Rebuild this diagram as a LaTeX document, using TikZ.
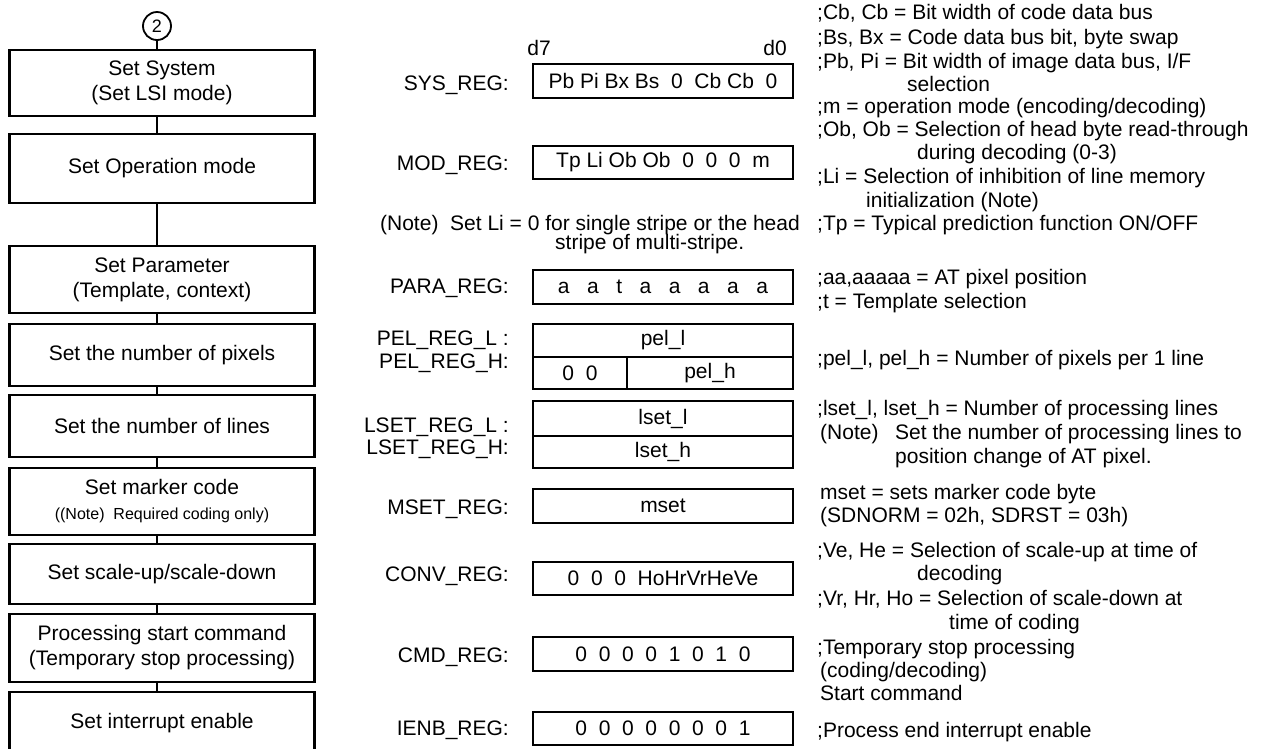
\documentclass[tikz,border=0pt]{standalone}
\usepackage{fontspec}
\setmainfont{Liberation Sans}
\newcommand\ft{\fontsize{21}{25}\selectfont}
\newcommand\smallft{\fontsize{16}{18}\selectfont}
\begin{document}
\begin{tikzpicture}[x=1pt,y=-1pt,
  box/.style={draw, line width=2.6pt, minimum width=305pt, inner sep=0pt, align=center, font=\ft},
  reg/.style={draw, line width=2.2pt, minimum width=260pt, inner sep=0pt, font=\ft},
  conn/.style={line width=1.3pt},
  lab/.style={inner sep=0pt, anchor=base east, font=\ft},
  txt/.style={inner sep=0pt, anchor=base west, font=\ft},
  ctxt/.style={inner sep=0pt, anchor=base, font=\ft}]
\useasboundingbox (0,0) rectangle (1278,748);
\clip (0,0) rectangle (1278,748);
\fill[white] (0,0) rectangle (1278,748);

% ---------- left flow ----------
\node[circle, draw, line width=1.8pt, minimum size=28pt, inner sep=0pt, font=\fontsize{18}{18}\selectfont] (c2) at (157,26) {2};
\node[box, minimum height=66pt] (b1) at (162,83) {Set System\\(Set LSI mode)};
\node[box, minimum height=69pt] (b2) at (162,168.5) {Set Operation mode};
\node[box, minimum height=67pt] (b3) at (162,279.5) {Set Parameter\\(Template, context)};
\node[box, minimum height=62pt] (b4) at (162,355) {Set the number of pixels};
\node[box, minimum height=62pt] (b5) at (162,426) {Set the number of lines};
\node[box, minimum height=67pt] (b6) at (162,501.5) {Set marker code\\{\smallft ((Note)~~Required coding only)}};
\node[box, minimum height=60pt] (b7) at (162,574) {Set scale-up/scale-down};
\node[box, minimum height=68pt] (b8) at (162,648) {Processing start command\\(Temporary stop processing)};
\node[box, minimum height=62pt] (b9) at (162,723) {Set interrupt enable};

\draw[conn] (c2.south) -- (b1.north -| c2.south);
\draw[conn] (b1.south -| c2) -- (b2.north -| c2);
\draw[conn] (b2.south -| c2) -- (b3.north -| c2);
\draw[conn] (b3.south -| c2) -- (b4.north -| c2);
\draw[conn] (b4.south -| c2) -- (b5.north -| c2);
\draw[conn] (b5.south -| c2) -- (b6.north -| c2);
\draw[conn] (b6.south -| c2) -- (b7.north -| c2);
\draw[conn] (b7.south -| c2) -- (b8.north -| c2);
\draw[conn] (b8.south -| c2) -- (b9.north -| c2);

% ---------- registers ----------
\node[ctxt] (d7) at (539,55) {d7};
\node[ctxt] (d0) at (775,55) {d0};

\node[reg, minimum height=34pt] (sys) at (663,81) {Pb Pi Bx Bs~~0~~Cb Cb~~0\hspace{14pt}};
\node[reg, minimum height=33pt] (mod) at (663,162.5) {Tp Li Ob Ob~~0~~0~~0~~m\hspace{16pt}};
\node[reg, minimum height=34pt] (para) at (663,287) {a~~~a~~~t~~~a~~~a~~~a~~~a~~~a\hspace{14pt}};
\node[reg, minimum height=33pt] (pelL) at (663,340.5) {pel\_l\hspace{46pt}};
\node[reg, minimum width=94pt, minimum height=32pt] (pelH0) at (580,373) {0~~0};
\node[reg, minimum width=166pt, minimum height=32pt] (pelH1) at (710,373) {pel\_h\hspace{26pt}};
\node[reg, minimum height=35pt] (lsetL) at (663,418.5) {lset\_l\hspace{20pt}};
\node[reg, minimum height=32pt] (lsetH) at (663,452) {lset\_h\hspace{10pt}};
\node[reg, minimum height=34pt] (mset) at (663,506) {mset\hspace{18pt}};
\node[reg, minimum height=33pt] (conv) at (663,578.5) {0~~0~~0~~HoHrVrHeVe\hspace{7pt}};
\node[reg, minimum height=34pt] (cmd) at (663,654) {0~~0~~0~~0~~1~~0~~1~~0\hspace{26pt}};
\node[reg, minimum height=33pt] (ienb) at (663,728.5) {0~~0~~0~~0~~0~~0~~0~~1\hspace{26pt}};

% register labels
\node[lab] (lsys) at (509,90) {SYS\_REG:};
\node[lab] (lmod) at (509,170) {MOD\_REG:};
\node[lab] (lpara) at (509,293) {PARA\_REG:};
\node[lab] (lpell) at (509,345) {PEL\_REG\_L :};
\node[lab] (lpelh) at (509,368) {PEL\_REG\_H:};
\node[lab] (llsetl) at (509,432) {LSET\_REG\_L :};
\node[lab] (llseth) at (509,454) {LSET\_REG\_H:};
\node[lab] (lmset) at (509,514) {MSET\_REG:};
\node[lab] (lconv) at (509,581) {CONV\_REG:};
\node[lab] (lcmd) at (509,662) {CMD\_REG:};
\node[lab] (lienb) at (509,735) {IENB\_REG:};

% note under MOD_REG
\node[lab] (nt1) at (800,230) {(Note)~~Set Li = 0 for single stripe or the head};
\node[txt] (nt2) at (555,249) {stripe of multi-stripe.};

% ---------- right comments ----------
\node[txt] (r1) at (817,19) {;Cb, Cb = Bit width of code data bus};
\node[txt] (r2) at (817,44) {;Bs, Bx = Code data bus bit, byte swap};
\node[txt] (r3) at (817,68) {;Pb, Pi = Bit width of image data bus, I/F};
\node[txt] (r4) at (907,91) {selection};
\node[txt] (r5) at (817,113) {;m = operation mode (encoding/decoding)};
\node[txt] (r6) at (817,136) {;Ob, Ob = Selection of head byte read-through};
\node[txt] (r7) at (917,159) {during decoding (0-3)};
\node[txt] (r8) at (817,183) {;Li = Selection of inhibition of line memory};
\node[txt] (r9) at (866,207) {initialization (Note)};
\node[txt] (r10) at (817,230) {;Tp = Typical prediction function ON/OFF};
\node[txt] (r11) at (817,284) {;aa,aaaaa = AT pixel position};
\node[txt] (r12) at (817,308) {;t = Template selection};
\node[txt] (r13) at (817,365) {;pel\_l, pel\_h = Number of pixels per 1 line};
\node[txt] (r14) at (817,415) {;lset\_l, lset\_h = Number of processing lines};
\node[txt] (r15) at (820,439) {(Note)};
\node[txt] (r16) at (895,439) {Set the number of processing lines to};
\node[txt] (r17) at (895,463) {position change of AT pixel.};
\node[txt] (r18) at (820,499) {mset = sets marker code byte};
\node[txt] (r19) at (820,522) {(SDNORM = 02h, SDRST = 03h)};
\node[txt] (r20) at (817,557) {;Ve, He = Selection of scale-up at time of};
\node[txt] (r21) at (917,580) {decoding};
\node[txt] (r22) at (817,605) {;Vr, Hr, Ho = Selection of scale-down at};
\node[txt] (r23) at (949,629) {time of coding};
\node[txt] (r24) at (817,654) {;Temporary stop processing};
\node[txt] (r25) at (820,677) {(coding/decoding)};
\node[txt] (r26) at (820,700) {Start command};
\node[txt] (r27) at (817,737) {;Process end interrupt enable};
\end{tikzpicture}
\end{document}
